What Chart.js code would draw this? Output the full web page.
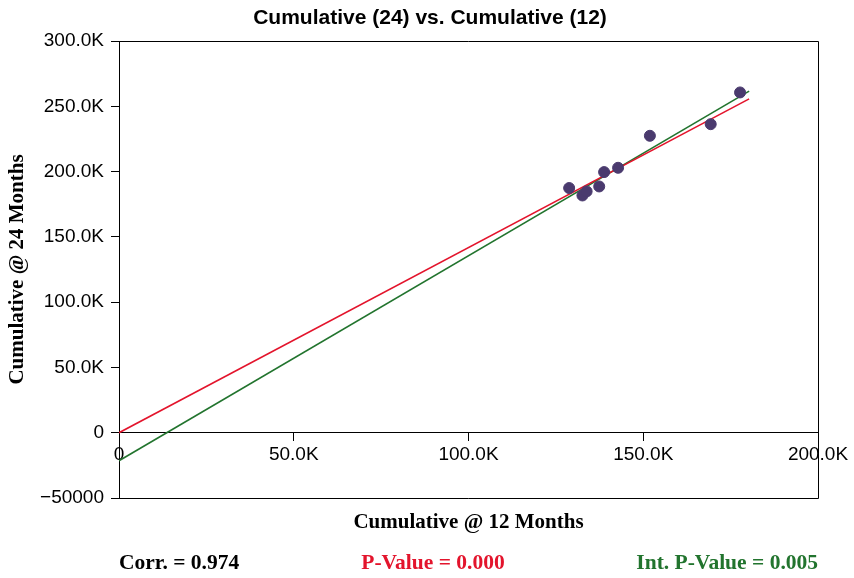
<!DOCTYPE html>
<html>
<head>
<meta charset="utf-8">
<script src="https://cdn.jsdelivr.net/npm/chart.js@4"></script>
<style>
  html, body { margin: 0; padding: 0; background: #fff; }
  #wrap { width: 854px; height: 578px; }
</style>
</head>
<body>
<div id="wrap"><canvas id="grafico" width="854" height="578"></canvas></div>
<script>
// ====== datos ======
const cum12 = [128800, 132600, 133800, 137400, 138800, 142800, 151900, 169300, 177700];
const cum24 = [187400, 181700, 184800, 188600, 199600, 202900, 227400, 236300, 260600];
const fitX = [0, 180300];
const fitRed = [0, 255700];     // recta por el origen
const fitGreen = [-21500, 261600]; // recta con intercepto
const xTicks = [0, 50000, 100000, 150000, 200000];
const yTicks = [-50000, 0, 50000, 100000, 150000, 200000, 250000, 300000];
const statsText = ['Corr. = 0.974', 'P-Value = 0.000', 'Int. P-Value = 0.005'];

const ROJO = '#e3142c', VERDE = '#22742e', PUNTO = '#4a3a6e';
const SANS = '"Liberation Sans", Arial, sans-serif';
const SERIF = '"Liberation Serif", "Times New Roman", serif';

function fmtK(v) {
    if (v === 0) return '0';
    if (v < 0) return '\u2212' + Math.abs(v);
    return (v / 1000).toFixed(1) + 'K';
}

const toXY = (xs, ys) => xs.map((x, i) => ({ x: x, y: ys[i] }));

// marco, titulo y textos de abajo
const extras = {
    id: 'extras',
    afterDraw(chart) {
        const ctx = chart.ctx, a = chart.chartArea;
        ctx.save();
        ctx.strokeStyle = '#000';
        ctx.lineWidth = 1;
        ctx.beginPath();
        ctx.moveTo(a.left, a.top + 0.5);
        ctx.lineTo(a.right + 0.5, a.top + 0.5);
        ctx.lineTo(a.right + 0.5, a.bottom + 0.5);
        ctx.lineTo(a.left, a.bottom + 0.5);
        ctx.stroke();

        ctx.fillStyle = '#000';
        ctx.textBaseline = 'middle';
        ctx.textAlign = 'center';
        ctx.font = 'bold 21px ' + SANS;
        ctx.fillText('Cumulative (24) vs. Cumulative (12)', 430, 18);

        ctx.font = 'bold 21px ' + SERIF;
        ctx.fillText('Cumulative @ 12 Months', (a.left + a.right) / 2, 523);

        const y = 563;
        ctx.font = 'bold 21.5px ' + SERIF;
        ctx.textAlign = 'left';
        ctx.fillStyle = '#000';
        ctx.fillText(statsText[0], a.left, y);
        ctx.textAlign = 'center';
        ctx.fillStyle = ROJO;
        ctx.fillText(statsText[1], 433, y);
        ctx.textAlign = 'right';
        ctx.fillStyle = VERDE;
        ctx.fillText(statsText[2], a.right, y);
        ctx.restore();
    }
};

const $ctx = document.getElementById('grafico');
const chart = new Chart($ctx, {
    type: 'scatter',
    data: {
        datasets: [
            {
                type: 'line',
                data: toXY(fitX, fitRed),
                borderColor: ROJO,
                borderWidth: 1.6,
                pointRadius: 0,
                order: 2
            },
            {
                type: 'line',
                data: toXY(fitX, fitGreen),
                borderColor: VERDE,
                borderWidth: 1.6,
                pointRadius: 0,
                order: 3
            },
            {
                data: toXY(cum12, cum24),
                backgroundColor: PUNTO,
                borderColor: PUNTO,
                pointRadius: 5.5,
                order: 1
            }
        ]
    },
    options: {
        responsive: false,
        animation: false,
        layout: { padding: { top: 41, right: 36, bottom: 80, left: 0 } },
        plugins: {
            legend: { display: false },
            tooltip: { enabled: false },
            title: { display: false }
        },
        scales: {
            x: {
                type: 'linear',
                position: { y: 0 },
                min: 0,
                max: 200000,
                afterBuildTicks: s => { s.ticks = xTicks.map(v => ({ value: v })); },
                ticks: {
                    color: '#000',
                    font: { family: SANS, size: 19 },
                    padding: 3,
                    maxRotation: 0,
                    callback: v => fmtK(v)
                },
                grid: { drawOnChartArea: false, tickLength: 8, color: '#000', tickColor: '#000' },
                border: { color: '#000', width: 1 }
            },
            y: {
                type: 'linear',
                min: -50000,
                max: 300000,
                afterBuildTicks: s => { s.ticks = yTicks.map(v => ({ value: v })); },
                afterFit: s => { s.width = 119; },
                ticks: {
                    color: '#000',
                    font: { family: SANS, size: 19 },
                    padding: 7,
                    callback: v => fmtK(v)
                },
                grid: { drawOnChartArea: false, tickLength: 8, color: '#000', tickColor: '#000' },
                border: { color: '#000', width: 1 },
                title: {
                    display: true,
                    text: 'Cumulative @ 24 Months',
                    color: '#000',
                    font: { family: SERIF, size: 21, weight: 'bold' },
                    padding: { top: 5, bottom: 0 }
                }
            }
        }
    },
    plugins: [extras]
});
</script>
</body>
</html>
